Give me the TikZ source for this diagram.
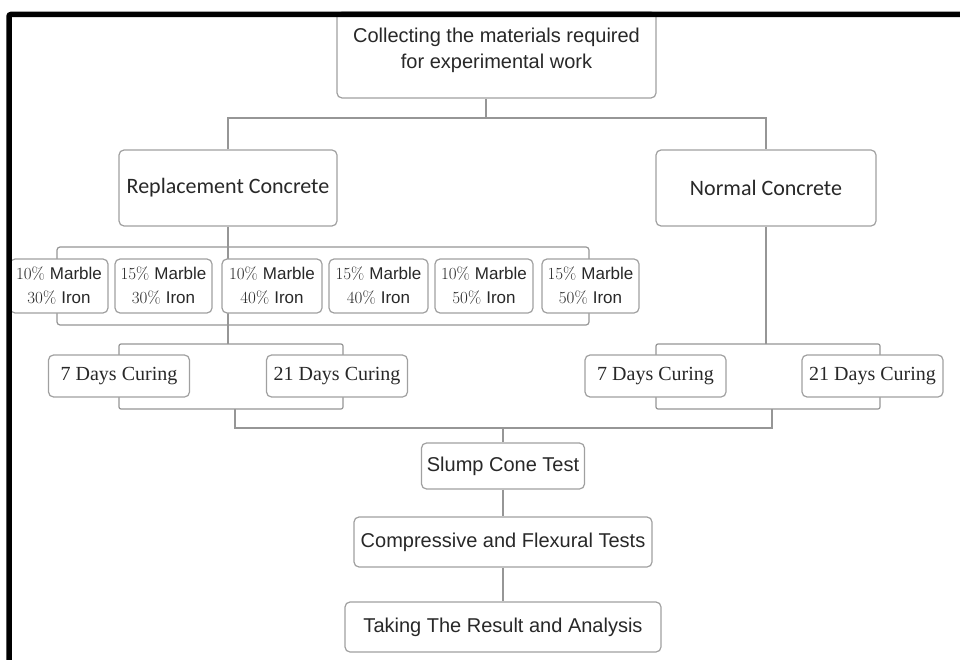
\documentclass[tikz,border=0pt]{standalone}
\usepackage{fontspec}
\setsansfont{Liberation Sans}
\newfontfamily\calib{Carlito}
\newfontfamily\timesf{Liberation Serif}
\usetikzlibrary{backgrounds}
\definecolor{boxgray}{RGB}{160,160,160}
\definecolor{linegray}{RGB}{150,150,150}
\definecolor{txtgray}{RGB}{40,40,40}
\begin{document}
\begin{tikzpicture}[x=1pt,y=-1pt,
  box/.style={draw=boxgray, line width=1.2pt, rounded corners=5pt, fill=white, inner sep=0pt, text=txtgray, align=center},
  conn/.style={draw=linegray, line width=1.2pt},
  arialtxt/.style={font=\sffamily\fontsize{20}{26}\selectfont},
  calibtxt/.style={font=\calib\fontsize{22}{26}\selectfont},
  marble/.style={box, minimum height=54pt, font=\fontsize{17}{24}\selectfont},
  curing/.style={box, minimum width=141pt, minimum height=42pt, font=\timesf\fontsize{20}{22}\selectfont},
  borderline/.style={draw=black, line width=5.5pt, rounded corners=2pt}
]
\useasboundingbox (0,0) rectangle (960,660);

% top box
\node[box, minimum width=319pt, minimum height=86pt] (top) at (496.5,55) {};
\node[arialtxt, text=txtgray, align=center, inner sep=0pt] (toptxt) at (496.5,50) {Collecting the materials required\\for experimental work};

% second level
\node[box, calibtxt, minimum width=218pt, minimum height=76pt] (rep) at (228,188) {Replacement Concrete};
\node[box, calibtxt, minimum width=220pt, minimum height=76pt] (norm) at (766,188) {Normal Concrete};

% marble boxes
\node[marble, minimum width=98pt]  (m1) at (59,286)    {\rmfamily 10\% {\sffamily Marble}\\\rmfamily 30\% {\sffamily Iron}};
\node[marble, minimum width=97pt]  (m2) at (163.5,286) {\rmfamily 15\% {\sffamily Marble}\\\rmfamily 30\% {\sffamily Iron}};
\node[marble, minimum width=100pt] (m3) at (272,286)   {\rmfamily 10\% {\sffamily Marble}\\\rmfamily 40\% {\sffamily Iron}};
\node[marble, minimum width=99pt]  (m4) at (378.5,286) {\rmfamily 15\% {\sffamily Marble}\\\rmfamily 40\% {\sffamily Iron}};
\node[marble, minimum width=98pt]  (m5) at (484,286)   {\rmfamily 10\% {\sffamily Marble}\\\rmfamily 50\% {\sffamily Iron}};
\node[marble, minimum width=97pt]  (m6) at (590.5,286) {\rmfamily 15\% {\sffamily Marble}\\\rmfamily 50\% {\sffamily Iron}};

% curing boxes
\node[curing] (l7)  at (119,376)   {7 Days Curing};
\node[curing] (l21) at (337,376)   {21 Days Curing};
\node[curing] (r7)  at (655.5,376) {7 Days Curing};
\node[curing] (r21) at (872.5,376) {21 Days Curing};

% tests
\node[box, arialtxt, minimum width=163pt, minimum height=46pt] (slump) at (503,466) {Slump Cone Test};
\node[box, arialtxt, minimum width=298pt, minimum height=50pt] (comp) at (503,542) {Compressive and Flexural Tests};
\node[box, arialtxt, minimum width=316pt, minimum height=50pt] (take) at (503,627) {Taking The Result and Analysis};

% coordinates
\coordinate (hub) at (486,118);
\coordinate (mbA) at (57,247);
\coordinate (mbB) at (589,325);
\coordinate (lct) at (228,344);
\coordinate (lcA) at (119,344);
\coordinate (lcB) at (343,409);
\coordinate (rct) at (766,344);
\coordinate (rcA) at (656,344);
\coordinate (rcB) at (880,409);
\coordinate (lcb) at (235,409);
\coordinate (rcb) at (772,409);
\coordinate (hub2) at (503,428);

\begin{scope}[on background layer]
  \fill[white] (0,0) rectangle (960,660);
  \draw[conn] (hub |- top.south) -- (hub);
  \draw[conn] (rep.north) |- (hub) -| (norm.north);
  \draw[conn, rounded corners=3pt] (mbA) rectangle (mbB);
  \draw[conn] (rep.south) -- (lct);
  \draw[conn, rounded corners=2pt] (lcA) rectangle (lcB);
  \draw[conn] (norm.south) -- (rct);
  \draw[conn, rounded corners=2pt] (rcA) rectangle (rcB);
  \draw[conn] (lcb) |- (hub2) -| (rcb);
  \draw[conn] (hub2) -- (slump.north);
  \draw[conn] (slump.south) -- (comp.north);
  \draw[conn] (comp.south) -- (take.north);
\end{scope}

% outer frame (top and left only)
\draw[borderline] (9,662) -- (9,14.5) -- (962,14.5);
\end{tikzpicture}
\end{document}
